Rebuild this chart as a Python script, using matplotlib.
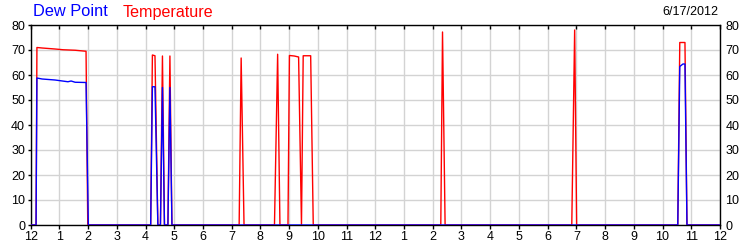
import matplotlib
matplotlib.use("Agg")
import matplotlib.pyplot as plt

plt.rcParams['font.family'] = ['Liberation Sans', 'DejaVu Sans']

# time in hours since midnight (0..24)
temp_hours = [0.0, 0.19, 0.22, 0.40, 0.85, 1.13, 1.55, 1.93, 1.99,
              4.18, 4.24, 4.33, 4.43, 4.52, 4.59, 4.66, 4.78, 4.85, 4.92,
              7.26, 7.33, 7.43,
              8.49, 8.60, 8.68,
              8.96, 9.01, 9.18, 9.33, 9.43, 9.49, 9.75, 9.84,
              14.28, 14.34, 14.43,
              18.84, 18.94, 19.01,
              22.53, 22.60, 22.78, 22.85, 24.0]
temp_values = [0, 0, 71.0, 70.8, 70.4, 70.1, 69.9, 69.5, 0,
               0, 68.0, 67.7, 0, 0, 67.6, 0, 0, 67.6, 0,
               0, 66.8, 0,
               0, 68.3, 0,
               0, 67.8, 67.6, 67.2, 0, 67.7, 67.7, 0,
               0, 77.2, 0,
               0, 78.0, 0,
               0, 73.0, 73.0, 0, 0]

dew_hours = [0.0, 0.19, 0.22, 0.40, 0.85, 1.30, 1.41, 1.55, 1.93, 2.01,
             4.18, 4.24, 4.33, 4.43, 4.52, 4.59, 4.66, 4.78, 4.85, 4.92,
             22.53, 22.60, 22.71, 22.78, 22.85, 24.0]
dew_values = [0, 0, 58.8, 58.4, 58.0, 57.3, 57.6, 57.1, 57.0, 0,
              0, 55.3, 55.3, 0, 0, 55.0, 0, 0, 55.0, 0,
              0, 63.4, 64.4, 64.4, 0, 0]

x_tick_labels = ['12', '1', '2', '3', '4', '5', '6', '7', '8', '9', '10', '11',
                 '12', '1', '2', '3', '4', '5', '6', '7', '8', '9', '10', '11', '12']
y_ticks = [0, 10, 20, 30, 40, 50, 60, 70, 80]
date_label = '6/17/2012'

fig = plt.figure(figsize=(7.5, 2.5), dpi=100)
ax = fig.add_axes([30.6 / 750, 0.1, (720.0 - 30.6) / 750, 0.8])

ax.plot(temp_hours, temp_values, color='#ff0000', lw=1.0, zorder=3)
ax.plot(dew_hours, dew_values, color='#0000ff', lw=1.0, zorder=4)

ax.set_xlim(0, 24)
ax.set_ylim(0, 80)
ax.set_xticks(range(25))
ax.set_xticklabels(x_tick_labels)
ax.set_yticks(y_ticks)
ax.grid(True, color='#d3d3d3', lw=1.0, zorder=0)
ax.set_axisbelow(True)

ax.tick_params(axis='x', which='both', direction='out', length=3, width=1,
               top=True, labelsize=9, colors='black', pad=1.5)
ax.tick_params(axis='y', direction='out', length=2, width=1, labelsize=9,
               left=True, right=False, labelleft=True, labelright=True, pad=2)
ax.yaxis.set_tick_params(which='major', pad=2)
for lbl in ax.get_yticklabels(which='major'):
    pass
for spine in ax.spines.values():
    spine.set_color('black')
    spine.set_linewidth(1.0)

# top ticks inward
for line in ax.xaxis.get_majorticklines()[1::2]:
    line.set_marker(3)  # TICKDOWN
    line.set_markersize(3)

fig.text(33 / 750, 1 - 12 / 250, 'Dew Point', color='#0000ff', fontsize=11.8,
         ha='left', va='center')
fig.text(123 / 750, 1 - 12 / 250, 'Temperature', color='#ff0000', fontsize=11.6,
         ha='left', va='center')
fig.text(718 / 750, 1 - 12 / 250, date_label, color='black', fontsize=9,
         ha='right', va='center')

fig.savefig('out.png', dpi=100)
